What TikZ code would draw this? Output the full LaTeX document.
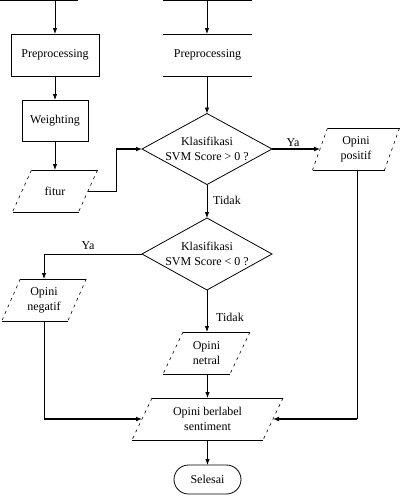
\documentclass[tikz,border=0pt]{standalone}
\usepackage{fontspec}
\setmainfont{Liberation Serif}
\usetikzlibrary{arrows.meta}
\tikzset{
  txt/.style={shape=rectangle, inner sep=0pt, outer sep=0pt, align=center, font=\fontsize{12}{15}\selectfont},
  ln/.style={line width=0.8pt},
  arr/.style={line width=0.8pt, -{Latex[length=6pt,width=4.5pt]}},
  tarr/.style={line width=1.7pt, -{Latex[length=6pt,width=5pt]}},
  side/.style={line width=0.6pt, dash pattern=on 3pt off 4pt},
  lbl/.style={font=\fontsize{12}{15}\selectfont, inner sep=0pt}
}
\newcommand{\pgram}[6]{%
  \node[txt, minimum width=2*#4pt, minimum height=42pt] (#1) at (#2,#3) {#6};
  \draw[ln] (#2-#4+#5,#3-21) -- (#2+#4+#5,#3-21);
  \draw[ln] (#2-#4-#5,#3+21) -- (#2+#4-#5,#3+21);
  \draw[side] (#2+#4+#5,#3-21) -- (#2+#4-#5,#3+21);
  \draw[side] (#2-#4+#5,#3-21) -- (#2-#4-#5,#3+21);
}
\begin{document}
\begin{tikzpicture}[x=1pt,y=-1pt]
\useasboundingbox (0,0) rectangle (400,496);
% top boxes (cut off)
\node[txt, minimum width=88pt, minimum height=40pt] (topL) at (34,-19.5) {};
\draw[ln] (-10,0.5) -- (78,0.5);
\node[txt, minimum width=89pt, minimum height=40pt] (topR) at (207.5,-19.5) {};
\draw[ln] (163,0.5) -- (252,0.5);
% left column
\node[txt, draw, ln, minimum width=88pt, minimum height=42pt] (prepL) at (55,55) {Preprocessing};
\node[txt, draw, ln, minimum width=66pt, minimum height=41pt] (weight) at (55,120.5) {Weighting};
\pgram{fitur}{55}{191}{33}{9.5}{fitur}
% right column
\node[txt, minimum width=89pt, minimum height=42pt] (prepR) at (207.5,55) {Preprocessing};
\draw[ln] (prepR.north west) -- (prepR.north east);
\draw[ln] (prepR.south west) -- (prepR.south east);
\node[txt, minimum width=130pt, minimum height=71pt] (d1) at (207,149) {Klasifikasi\\SVM Score > 0 ?};
\draw[ln] (d1.north) -- (d1.east) -- (d1.south) -- (d1.west) -- cycle;
\node[txt, minimum width=130pt, minimum height=72pt] (d2) at (207,254) {Klasifikasi\\SVM Score < 0 ?};
\draw[ln] (d2.north) -- (d2.east) -- (d2.south) -- (d2.west) -- cycle;
\pgram{pos}{356}{149}{36}{7.5}{Opini\\positif}
\pgram{neg}{44}{300}{33}{9.25}{Opini\\negatif}
\pgram{net}{206.5}{353}{33.5}{10}{Opini\\netral}
\pgram{lab}{207.5}{419}{65.5}{10}{Opini berlabel\\sentiment}
\node[txt, draw, ln, rounded corners=14.5pt, minimum width=67pt, minimum height=29pt] (end) at (207.5,479.5) {Selesai};
% connectors
\draw[arr] (topL.south -| prepL.north) -- (prepL.north);
\draw[arr] (prepL) -- (weight);
\draw[arr] (weight) -- (fitur);
\coordinate (c1) at (116,149);
\draw[ln] (fitur.east) -| (c1);
\draw[tarr] (c1) -- (d1.west);
\draw[arr] (topR.south -| d1.north) -- (prepR.north -| d1.north);
\draw[arr] (prepR.south -| d1.north) -- (d1.north);
\draw[tarr] (d1.east) -- (pos.west);
\node[lbl] (ya1) at (293,143) {Ya};
\draw[arr] (d1.south) -- (d2.north);
\node[lbl, anchor=west] (t1) at (213,200) {Tidak};
\draw[arr] (d2.west) -| (neg.north);
\node[lbl] (ya2) at (88,246) {Ya};
\draw[arr] (d2.south) -- (d2.south |- net.north);
\node[lbl, anchor=west] (t2) at (216,317) {Tidak};
\coordinate (c2) at (neg.south |- lab.west);
\draw[ln] (neg.south) -- (c2);
\draw[tarr] (c2) -- (lab.west);
\coordinate (c3) at (357,419);
\draw[ln] (pos.south -| c3) -- (c3);
\draw[tarr] (c3) -- (lab.east);
\draw[arr] (net.south -| lab.north) -- (lab.north);
\draw[arr] (lab.south) -- (lab.south |- end.north);
\end{tikzpicture}
\end{document}
